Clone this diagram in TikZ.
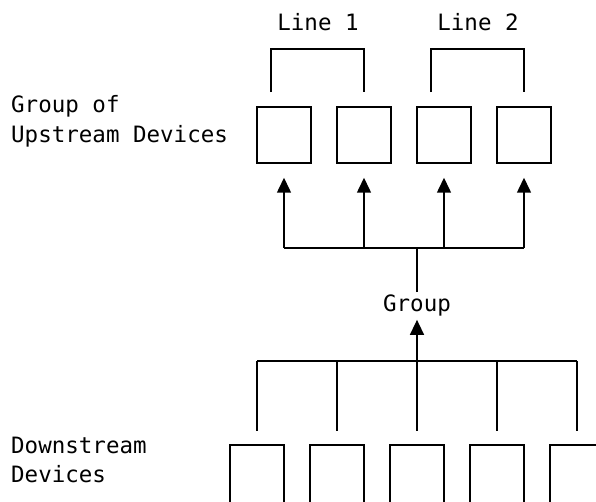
\documentclass[tikz,border=0pt]{standalone}
\usepackage{fontspec}
\setmonofont{DejaVu Sans Mono}
\usetikzlibrary{positioning,arrows.meta}

\begin{document}
\begin{tikzpicture}[x=1pt, y=1pt,
    device/.style={draw=black, line width=1.5pt, minimum width=54pt, minimum height=56pt, inner sep=0pt},
    wire/.style={draw=black, line width=1.5pt},
    arrow/.style={wire, -{Triangle[length=15pt, width=14pt]}},
    label/.style={font=\fontsize{22.5}{30}\selectfont\ttfamily, inner sep=0pt, align=left}
]
\clip (0,0) rectangle (596,502);

% Upstream group
\node[device] (up1) at (284,367) {};
\node[device] (up2) at (364,367) {};
\node[device] (up3) at (444,367) {};
\node[device] (up4) at (524,367) {};

% Downstream devices
\node[device, minimum height=60pt] (down1) at (257,27) {};
\node[device, minimum height=60pt] (down2) at (337,27) {};
\node[device, minimum height=60pt] (down3) at (417,27) {};
\node[device, minimum height=60pt] (down4) at (497,27) {};
\node[device, minimum height=60pt] (down5) at (577,27) {};

% Labels
\node[label, anchor=base] (line1) at (318,471) {Line 1};
\node[label, anchor=base] (line2) at (478,471) {Line 2};
\node[label, anchor=base, inner ysep=3pt] (group) at (417,190) {Group};
\node[label, anchor=base west] (uplabel) at (11,389) {Group of};
\node[label, anchor=base west] (uplabel2) at (11,359) {Upstream Devices};
\node[label, anchor=base west] (downlabel) at (11,48) {Downstream};
\node[label, anchor=base west] (downlabel2) at (11,19) {Devices};

\coordinate (upbar) at (417,254);
\coordinate (lowbar) at (417,141);

% Line brackets
\draw[wire] ([xshift=-13pt, yshift=14pt]up1.north) |- ([yshift=57pt]up2.north) -- ([yshift=14pt]up2.north);
\draw[wire] ([xshift=-13pt, yshift=14pt]up3.north) |- ([yshift=57pt]up4.north) -- ([yshift=14pt]up4.north);

% Fan out to upstream devices
\draw[wire] (group) -- (upbar);
\draw[wire] (upbar -| up1) -- (upbar -| up4);
\foreach \d in {up1, up2, up3, up4} {
    \draw[arrow, shorten >=14pt] (upbar -| \d) -- (\d);
}

% Downstream devices into group
\draw[wire] (lowbar -| down1) -- (lowbar -| down5);
\foreach \d in {down1, down2, down3, down4, down5} {
    \draw[wire, shorten >=13pt] (lowbar -| \d) -- (\d);
}
\draw[arrow] (lowbar) -- (group);

\end{tikzpicture}
\end{document}
